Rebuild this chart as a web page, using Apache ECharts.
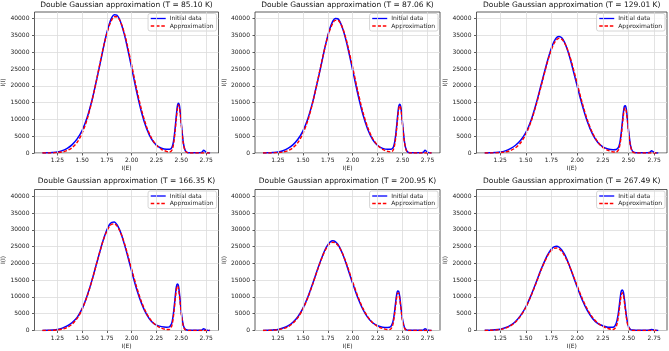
<!DOCTYPE html>
<html>
<head>
<meta charset="utf-8">
<script src="https://cdn.jsdelivr.net/npm/echarts@6/dist/echarts.min.js"></script>
<style>
html,body{margin:0;padding:0;background:#fff;}
#chart{width:669px;height:351px;}
</style>
</head>
<body>
<div id="chart"></div>
<script>
// ---- data ----
const titles = [
  'Double Gaussian approximation (T = 85.10 K)',
  'Double Gaussian approximation (T = 87.06 K)',
  'Double Gaussian approximation (T = 129.01 K)',
  'Double Gaussian approximation (T = 166.35 K)',
  'Double Gaussian approximation (T = 200.95 K)',
  'Double Gaussian approximation (T = 267.49 K)'
];
const xLabel = 'I(E)';
const yLabel = 'I(I)';
const seriesNames = ['Initial data', 'Approximation'];
const xTicks = [1.25, 1.50, 1.75, 2.00, 2.25, 2.50, 2.75];
const yTicks = [0, 5000, 10000, 15000, 20000, 25000, 30000, 35000, 40000];

const xValues = [1.10,1.15,1.20,1.25,1.30,1.35,1.40,1.45,1.50,1.55,1.60,1.65,1.70,1.725,1.75,1.775,1.80,1.825,1.85,1.875,1.90,1.925,1.95,2.00,2.05,2.10,2.15,2.20,2.25,2.30,2.35,2.38,2.40,2.41,2.42,2.43,2.44,2.45,2.46,2.47,2.48,2.49,2.50,2.52,2.54,2.57,2.60,2.65,2.69,2.71,2.725,2.74,2.76,2.79];

const initial1 = [20,60,150,300,700,1400,2500,4200,6700,10500,15800,22300,29300,32800,35900,38500,40400,41200,41100,40000,38000,35400,32300,25300,18200,12000,7300,4100,2300,1400,1100,1100,1420,2000,3200,5230,8080,11250,13900,14800,14300,12070,8800,3180,720,100,80,60,100,300,850,500,120,30];
const approx1 = [0,12,40,118,305,716,1590,3170,5900,10000,15600,22400,29500,32800,35700,38050,39700,40600,40600,39800,38150,35800,32900,26100,19050,12750,7850,4440,2320,1100,490,331,609,1189,2370,4374,7176,10330,13010,14305,13720,11480,8375,2960,610,20,0,0,0,0,0,0,0,0];

const initial2 = [20,58,146,292,680,1360,2430,4090,6520,10220,15370,21700,28510,31910,34930,37460,39310,40090,39990,38920,36970,34440,31430,24620,17710,11680,7100,4000,2240,1370,1080,1080,1400,1970,3150,5150,7950,11050,13650,14550,14050,11850,8650,3130,700,100,80,60,100,280,800,480,110,30];
const approx2 = [0,12,39,115,297,697,1547,3084,5741,9730,15180,21800,28700,31910,34740,37020,38630,39500,39500,38730,37120,34830,32010,25400,18540,12410,7640,4320,2260,1070,477,322,598,1170,2335,4311,7075,10185,12828,14104,13527,11323,8258,2919,602,20,0,0,0,0,0,0,0,0];

const initial3 = [20,55,140,280,640,1300,2300,3800,6100,9600,14600,20400,26200,28900,31300,33200,34400,34700,34300,33100,31200,28800,26000,20000,14200,9300,5600,3200,1800,1200,1000,1050,1550,2350,3800,6200,9100,12000,13900,14050,12800,10000,6900,2200,480,100,70,50,80,250,700,400,100,30];
const approx3 = [0,14,44,120,308,720,1550,3060,5560,9270,14220,20030,25930,28590,30850,32620,33750,34200,33920,32950,31330,29170,26600,20750,14880,9800,5950,3300,1680,790,345,273,758,1567,3063,5354,8250,11120,13094,13448,12049,9410,6413,1975,354,9,0,0,0,0,0,0,0,0];

const initial4 = [20,60,150,300,700,1350,2400,3900,6500,10300,15000,20400,25700,28000,30000,31500,32200,32300,31600,30200,28200,25800,23200,17600,12300,8000,4800,2700,1600,1150,1000,1100,1900,3000,4900,7500,10500,13000,13850,13500,11400,8400,5400,1600,350,100,70,60,80,200,550,350,100,30];
const approx4 = [7,23,66,174,420,930,1910,3610,6290,10110,14950,20380,25630,27860,29670,30980,31680,31740,31170,29980,28270,26100,23620,18190,12910,8440,5090,2830,1450,680,303,306,1070,2172,4042,6654,9595,12092,13294,12755,10674,7784,4954,1333,209,4,0,0,0,0,0,0,0,0];

const initial5 = [30,70,170,330,720,1350,2450,4100,6600,10000,14100,18500,22500,24200,25500,26400,26700,26500,25700,24400,22700,20700,18500,14000,9800,6400,3900,2300,1400,1000,900,1100,2300,3600,5700,8300,10600,11800,11750,10300,7900,5300,3200,800,200,80,60,50,80,200,500,300,100,30];
const approx5 = [13,37,97,234,530,1105,2150,3840,6380,9790,13920,18330,22320,23940,25190,25990,26300,26100,25420,24280,22750,20900,18840,14450,10260,6740,4110,2310,1200,580,266,393,1532,2902,4954,7414,9731,11146,11138,9708,7375,4897,2826,630,83,2,0,0,0,0,0,0,0,0];

const initial6 = [40,90,200,400,800,1500,2700,4500,7000,10400,14300,18300,21800,23200,24300,24900,25100,24800,24000,22800,21200,19300,17200,13000,9100,5900,3600,2100,1400,1000,1000,2100,4900,7300,9900,11800,12100,11500,9400,6700,4200,2400,1200,300,150,80,60,60,100,200,300,220,90,30];
const approx6 = [21,56,140,320,690,1360,2520,4320,6900,10240,14110,18100,21560,22900,23880,24460,24590,24280,23540,22400,20940,19220,17320,13310,9520,6320,3900,2240,1200,590,317,1114,3858,6135,8594,10529,11256,10507,8550,6068,3766,2036,965,149,16,0,0,0,0,0,0,0,0,0];

const initialSets = [initial1, initial2, initial3, initial4, initial5, initial6];
const approxSets = [approx1, approx2, approx3, approx4, approx5, approx6];

// ---- layout ----
const colLeft = [34.5, 255, 476.5];
const colWidth = [184, 185, 190.5];
const rowTop = [12, 189.5];
const rowHeight = 141;
const xMin = 1.02, xMax = 2.875;
const yMin = 0, yMax = 42000;
const FONT = 'DejaVu Sans';

const grids = [], xAxes = [], yAxes = [], series = [], legends = [], graphics = [];
for (let i = 0; i < 6; i++) {
  const r = Math.floor(i / 3), c = i % 3;
  const left = colLeft[c], top = rowTop[r], w = colWidth[c], h = rowHeight;
  grids.push({left: left, top: top, width: w, height: h, show: true,
    borderColor: '#333', borderWidth: 0.8, backgroundColor: 'transparent',
    containLabel: false, outerBoundsMode: 'none'});
  xAxes.push({type: 'value', gridIndex: i, min: xMin, max: xMax,
    axisLine: {show: false},
    axisTick: {show: true, inside: false, length: 2.5, customValues: xTicks, lineStyle: {color: '#333', width: 0.8}},
    axisLabel: {customValues: xTicks, fontSize: 6, color: '#222', fontFamily: FONT, margin: 4.5,
      formatter: v => v.toFixed(2)},
    splitLine: {show: false},
    name: xLabel, nameLocation: 'middle', nameGap: 12.5,
    nameTextStyle: {fontSize: 6, color: '#222', fontFamily: FONT}});
  yAxes.push({type: 'value', gridIndex: i, min: yMin, max: yMax, interval: 5000,
    axisLine: {show: false},
    axisTick: {show: true, inside: false, length: 2.5, customValues: yTicks, lineStyle: {color: '#333', width: 0.8}},
    axisLabel: {customValues: yTicks, fontSize: 6, color: '#222', fontFamily: FONT, margin: 5,
      formatter: v => String(Math.round(v))},
    splitLine: {show: true, lineStyle: {color: '#dcdcdc', width: 0.8}},
    name: yLabel, nameLocation: 'middle', nameGap: 25.5, nameRotate: 90,
    nameTextStyle: {fontSize: 6, color: '#222', fontFamily: FONT}});
  // vertical grid lines at the x tick values
  series.push({type: 'line', xAxisIndex: i, yAxisIndex: i, data: [], z: 1, silent: true,
    markLine: {silent: true, symbol: ['none', 'none'], animation: false,
      label: {show: false}, lineStyle: {color: '#dcdcdc', width: 0.8, type: 'solid'},
      data: xTicks.map(v => ({xAxis: v}))}});
  series.push({type: 'line', name: seriesNames[0], xAxisIndex: i, yAxisIndex: i,
    data: xValues.map((x, j) => [x, initialSets[i][j]]),
    symbol: 'none', smooth: 0.3, z: 3,
    lineStyle: {color: '#0000ff', width: 1.5}, itemStyle: {color: '#0000ff'}});
  series.push({type: 'line', name: seriesNames[1], xAxisIndex: i, yAxisIndex: i,
    data: xValues.map((x, j) => [x, approxSets[i][j]]),
    symbol: 'none', smooth: 0.3, z: 4,
    lineStyle: {color: '#ff0000', width: 1.4, type: [3.5, 1.8]}, itemStyle: {color: '#ff0000'}});
  legends.push({data: seriesNames, orient: 'vertical',
    right: 669 - (left + w) + 2, top: top + 1.5,
    itemWidth: 15, itemHeight: 6, itemGap: 1.5,
    padding: [2, 3, 2, 2], borderColor: '#cccccc', borderWidth: 0.8, borderRadius: 2,
    backgroundColor: 'rgba(255,255,255,0.85)',
    itemStyle: {opacity: 0},
    lineStyle: {width: 1.3},
    textStyle: {fontSize: 6, color: '#222', fontFamily: FONT, padding: [0, 0, 0, -1]},
    selectedMode: false});
  graphics.push({type: 'text', x: left + w / 2, y: r === 0 ? 5 : 181.5,
    style: {text: titles[i], fill: '#111', font: '7.5px "DejaVu Sans"',
      textAlign: 'center', textVerticalAlign: 'middle', align: 'center', verticalAlign: 'middle'}});
}

const chart = echarts.init(document.getElementById('chart'), null, {renderer: 'canvas'});
chart.setOption({
  animation: false,
  backgroundColor: '#ffffff',
  textStyle: {fontFamily: FONT},
  grid: grids, xAxis: xAxes, yAxis: yAxes, series: series,
  legend: legends, graphic: graphics
});
</script>
</body>
</html>
